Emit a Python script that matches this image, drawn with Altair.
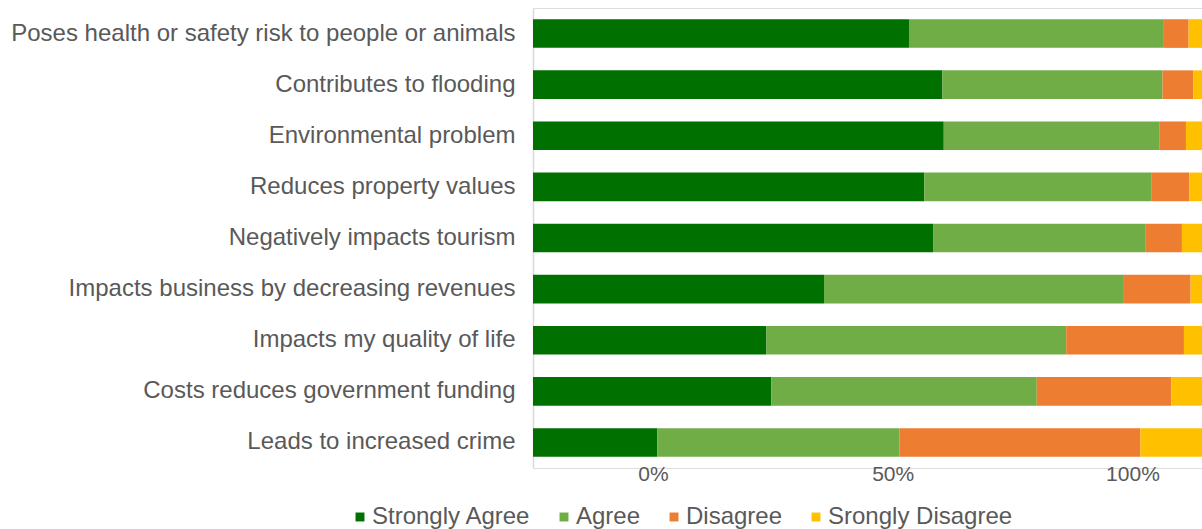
import altair as alt
import pandas as pd

# Survey statements, top to bottom
statements = [
    "Poses health or safety risk to people or animals",
    "Contributes to flooding",
    "Environmental problem",
    "Reduces property values",
    "Negatively impacts tourism",
    "Impacts business by decreasing revenues",
    "Impacts my quality of life",
    "Costs reduces government funding",
    "Leads to increased crime",
]

responses = ["Strongly Agree", "Agree", "Disagree", "Srongly Disagree"]
colors = ["#007000", "#70AD47", "#ED7D31", "#FFC000"]

# Share of respondents (%) per statement
strongly_agree = [56.2, 61.2, 61.4, 58.5, 59.8, 43.5, 34.9, 35.6, 18.6]
agree = [38.1, 32.9, 32.2, 33.9, 31.8, 44.7, 44.8, 39.7, 36.2]
disagree = [3.7, 4.6, 4.0, 5.7, 5.4, 10.1, 17.6, 20.1, 36.0]
strongly_disagree = [2.0, 1.3, 2.4, 1.9, 3.0, 1.7, 2.7, 4.6, 9.2]

# Axis tick labels
tick_values = [0, 50, 100]

series = [strongly_agree, agree, disagree, strongly_disagree]
rows = []
for r_idx, (resp, vals) in enumerate(zip(responses, series)):
    for stmt, v in zip(statements, vals):
        rows.append({"statement": stmt, "response": resp, "rank": r_idx, "value": v})
df = pd.DataFrame(rows)
ticks_df = pd.DataFrame({"pct": tick_values})

FONT = "Liberation Sans"
TEXT = "#595959"

bars = alt.Chart(df).mark_bar().encode(
    x=alt.X("value:Q", stack="zero",
            scale=alt.Scale(domain=[0, 100], nice=False, zero=False),
            axis=None),
    y=alt.Y("statement:N", sort=statements, title=None,
            scale=alt.Scale(paddingInner=0.44, paddingOuter=0.22),
            axis=alt.Axis(labelFontSize=24, labelColor=TEXT, labelFont=FONT,
                          labelLimit=700, labelPadding=18, ticks=False,
                          domainColor="#d9d9d9", domainWidth=1.5)),
    color=alt.Color("response:N",
                    scale=alt.Scale(domain=responses, range=colors),
                    legend=alt.Legend(title=None, orient="none", direction="horizontal",
                                      legendX=-185, legendY=497,
                                      symbolType="square", symbolSize=80,
                                      symbolStrokeWidth=0,
                                      labelFontSize=24, labelColor=TEXT, labelFont=FONT,
                                      labelOffset=0, columnPadding=21,
                                      labelLimit=400)),
    order=alt.Order("rank:Q"),
)

axis_layer = alt.Chart(ticks_df).mark_point(opacity=0).encode(
    x=alt.X("pct:Q",
            scale=alt.Scale(domain=[-25, 114.5], nice=False, zero=False),
            axis=alt.Axis(orient="bottom", values=tick_values, title=None,
                          labelExpr="datum.value + '%'",
                          labelFontSize=21, labelColor=TEXT, labelFont=FONT,
                          ticks=False, domain=False, grid=False,
                          labelPadding=0, offset=-5)),
)

chart = alt.layer(bars, axis_layer).resolve_scale(x="independent").properties(
    width=669,
    height=460,
    autosize=alt.AutoSizeParams(type="none"),
    padding={"left": 533, "top": 8, "right": 0, "bottom": 61},
).configure_view(stroke=None).configure(background="white")

chart.save("out.html", embed_options={"renderer": "svg", "actions": False})
